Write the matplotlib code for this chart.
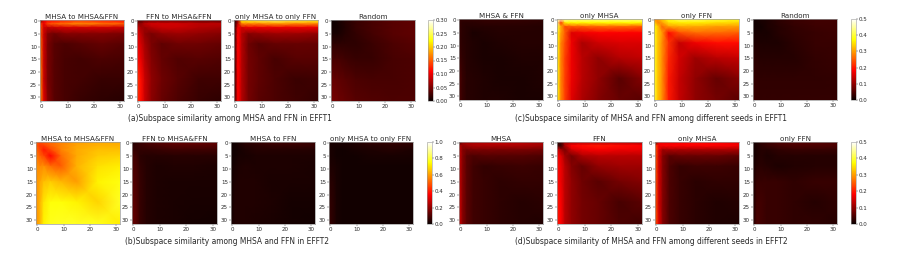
import numpy as np
import matplotlib
matplotlib.use("Agg")
import matplotlib.pyplot as plt

grid = [-0.5, 1, 2.5, 5, 9, 15, 23, 31.5]

a_titles = ["MHSA to MHSA&FFN", "FFN to MHSA&FFN", "only MHSA to only FFN", "Random"]
a1 = [[.02,.10,.11,.11,.12,.13,.12,.11],[.14,.10,.14,.15,.16,.17,.16,.15],[.15,.09,.08,.085,.09,.09,.09,.085],
      [.15,.085,.055,.045,.055,.055,.055,.05],[.16,.085,.05,.035,.03,.035,.04,.035],[.165,.085,.05,.035,.028,.025,.03,.028],
      [.17,.085,.05,.035,.028,.025,.02,.02],[.17,.095,.055,.035,.028,.02,.016,.014]]
a2 = [[.03,.03,.04,.04,.04,.04,.035,.03],[.06,.06,.08,.09,.09,.09,.08,.08],[.09,.07,.065,.075,.085,.085,.075,.07],
      [.10,.08,.06,.05,.06,.065,.06,.055],[.105,.09,.07,.05,.038,.045,.045,.04],[.115,.10,.075,.055,.04,.032,.035,.032],
      [.135,.115,.085,.06,.045,.035,.024,.024],[.13,.115,.085,.058,.042,.03,.02,.016]]
a3 = [[.01,.06,.22,.23,.24,.25,.24,.23],[.01,.08,.17,.17,.17,.18,.17,.17],[.01,.105,.09,.10,.10,.10,.10,.10],
      [.01,.11,.075,.055,.06,.065,.065,.06],[.01,.11,.075,.045,.035,.04,.042,.04],[.01,.11,.075,.048,.038,.028,.034,.034],
      [.012,.11,.075,.048,.038,.03,.022,.024],[.012,.11,.075,.048,.036,.03,.024,.018]]
a4 = [[.002,.003,.006,.012,.02,.028,.035,.038],[.003,.003,.006,.012,.02,.028,.035,.038],[.004,.004,.005,.011,.02,.028,.035,.038],
      [.007,.007,.008,.012,.018,.026,.034,.038],[.016,.016,.016,.016,.016,.022,.03,.034],[.027,.027,.027,.024,.02,.02,.027,.03],
      [.04,.04,.038,.034,.03,.027,.027,.03],[.048,.048,.044,.04,.035,.032,.03,.03]]

b_titles = ["MHSA to MHSA&FFN", "FFN to MHSA&FFN", "MHSA to FFN", "only MHSA to only FFN"]
b1 = [[.50,.47,.50,.52,.56,.60,.62,.62],[.50,.45,.46,.51,.56,.61,.63,.63],[.52,.47,.40,.47,.56,.62,.65,.65],
      [.55,.51,.47,.37,.52,.62,.67,.68],[.58,.57,.58,.53,.50,.63,.70,.72],[.58,.61,.65,.67,.64,.60,.73,.76],
      [.58,.63,.71,.75,.75,.73,.68,.78],[.58,.63,.73,.77,.78,.78,.77,.72]]
b2 = [[.03,.05,.07,.09,.11,.13,.14,.13],[.05,.06,.07,.08,.09,.11,.11,.11],[.07,.06,.06,.06,.07,.08,.08,.08],
      [.09,.08,.05,.04,.04,.045,.045,.045],[.10,.09,.06,.04,.03,.035,.035,.03],[.11,.10,.07,.04,.03,.025,.025,.025],
      [.13,.11,.07,.04,.03,.025,.02,.02],[.14,.12,.07,.04,.03,.025,.016,.014]]
b3 = [[.01,.015,.025,.05,.065,.08,.08,.07],[.01,.015,.025,.04,.05,.06,.065,.065],[.01,.015,.018,.03,.04,.04,.04,.04],
      [.01,.015,.02,.022,.03,.03,.03,.03],[.015,.02,.03,.035,.03,.03,.03,.024],[.015,.03,.035,.035,.035,.024,.024,.024],
      [.015,.035,.035,.035,.035,.03,.016,.016],[.02,.035,.035,.035,.03,.024,.016,.012]]
b4 = [[.02,.02,.02,.02,.03,.055,.065,.055],[.02,.02,.02,.02,.03,.04,.05,.05],[.02,.02,.015,.015,.02,.03,.04,.03],
      [.02,.02,.015,.015,.015,.02,.02,.02],[.03,.03,.02,.015,.015,.015,.015,.015],[.04,.04,.02,.015,.015,.015,.015,.015],
      [.055,.05,.02,.015,.015,.015,.015,.015],[.065,.05,.02,.015,.015,.015,.015,.012]]

c_titles = ["MHSA & FFN", "only MHSA", "only FFN", "Random"]
c1 = [[.03,.03,.03,.03,.03,.03,.03,.03],[.03,.025,.025,.025,.028,.028,.028,.025],[.03,.025,.02,.02,.02,.022,.022,.02],
      [.03,.025,.02,.013,.016,.02,.02,.02],[.03,.025,.02,.016,.013,.016,.02,.02],[.036,.028,.02,.016,.013,.013,.016,.016],
      [.05,.032,.022,.02,.016,.013,.013,.016],[.045,.032,.022,.02,.016,.016,.013,.013]]
c2 = [[.46,.47,.46,.44,.44,.44,.44,.44],[.44,.22,.36,.37,.37,.37,.37,.37],[.41,.31,.24,.25,.25,.26,.26,.25],
      [.38,.30,.25,.16,.17,.18,.18,.18],[.38,.28,.24,.17,.12,.145,.155,.155],[.38,.28,.23,.17,.13,.10,.125,.135],
      [.38,.28,.23,.17,.13,.10,.06,.09],[.38,.28,.23,.16,.12,.09,.07,.06]]
c3 = [[.27,.30,.33,.38,.42,.42,.40,.38],[.34,.28,.30,.35,.36,.36,.35,.34],[.37,.33,.26,.30,.31,.31,.30,.30],
      [.38,.33,.30,.19,.24,.26,.26,.25],[.39,.33,.29,.22,.14,.17,.19,.19],[.39,.33,.29,.21,.15,.11,.13,.14],
      [.39,.33,.29,.20,.14,.10,.07,.09],[.40,.33,.29,.20,.14,.10,.08,.06]]
c4 = [[.006,.006,.01,.014,.024,.035,.04,.04],[.006,.006,.01,.014,.024,.035,.04,.04],[.006,.006,.006,.014,.02,.03,.038,.04],
      [.01,.01,.01,.01,.02,.028,.035,.038],[.017,.017,.014,.014,.014,.024,.035,.035],[.024,.024,.02,.02,.02,.02,.03,.035],
      [.03,.03,.028,.028,.028,.028,.028,.03],[.035,.035,.03,.03,.03,.03,.03,.03]]

d_titles = ["MHSA", "FFN", "only MHSA", "only FFN"]
d1 = [[.02,.11,.12,.12,.13,.14,.13,.12],[.13,.10,.11,.12,.12,.12,.12,.11],[.14,.09,.08,.085,.085,.085,.085,.08],
      [.14,.09,.06,.05,.055,.055,.055,.05],[.14,.09,.06,.04,.03,.034,.038,.034],[.14,.09,.06,.04,.034,.027,.03,.03],
      [.15,.09,.06,.04,.034,.027,.02,.024],[.15,.09,.06,.04,.034,.027,.02,.017]]
d2 = [[.01,.05,.12,.12,.13,.13,.13,.12],[.05,.03,.12,.18,.19,.20,.19,.18],[.16,.11,.085,.15,.17,.18,.17,.17],
      [.18,.16,.11,.08,.12,.13,.13,.13],[.19,.17,.13,.09,.07,.10,.11,.11],[.19,.17,.13,.10,.075,.06,.08,.09],
      [.20,.18,.13,.10,.08,.07,.045,.06],[.20,.18,.13,.10,.08,.07,.05,.04]]
d3 = [[.02,.17,.17,.17,.18,.19,.18,.17],[.24,.17,.18,.18,.18,.18,.18,.17],[.25,.16,.11,.12,.12,.12,.12,.12],
      [.25,.15,.09,.06,.07,.07,.07,.06],[.25,.15,.09,.05,.032,.038,.038,.034],[.25,.15,.09,.05,.034,.024,.028,.028],
      [.25,.15,.09,.05,.034,.024,.017,.02],[.25,.16,.09,.05,.034,.024,.017,.014]]
d4 = [[.008,.014,.028,.035,.05,.056,.056,.05],[.008,.014,.024,.035,.042,.05,.05,.05],[.008,.014,.02,.02,.028,.035,.035,.035],
      [.008,.014,.02,.014,.02,.02,.02,.02],[.01,.02,.024,.02,.014,.018,.02,.02],[.014,.035,.035,.035,.035,.028,.035,.035],
      [.014,.042,.042,.035,.035,.028,.02,.028],[.018,.05,.042,.035,.035,.028,.028,.02]]

a_caption = "(a)Subspace similarity among MHSA and FFN in EFFT1"
b_caption = "(b)Subspace similarity among MHSA and FFN in EFFT2"
c_caption = "(c)Subspace similarity of MHSA and FFN among different seeds in EFFT1"
d_caption = "(d)Subspace similarity of MHSA and FFN among different seeds in EFFT2"

W, H = 897, 269
fig = plt.figure(figsize=(W / 100, H / 100), dpi=100)
plt.rcParams["font.family"] = "DejaVu Sans"
EDGE = "#9a9a9a"
TXT = "#2a2a2a"


def px_axes(x0, x1, y0, y1):
    return fig.add_axes([x0 / W, 1 - y1 / H, (x1 - x0) / W, (y1 - y0) / H])


def group(panels, titles, xs, y0, y1, cbar_x, vmax, cticks, fmt, caption, cap_x, cap_y):
    mesh = None
    for data, title, (x0, x1) in zip(panels, titles, xs):
        ax = px_axes(x0, x1, y0, y1)
        mesh = ax.pcolormesh(grid, grid, np.array(data), cmap="hot", vmin=0, vmax=vmax,
                             shading="gouraud", rasterized=True)
        ax.set_xlim(-0.5, 31.5)
        ax.set_ylim(31.5, -0.5)
        ax.set_xticks([0, 10, 20, 30])
        ax.set_yticks([0, 5, 10, 15, 20, 25, 30])
        ax.tick_params(labelsize=4.0, length=1.2, width=0.3, pad=1, colors=TXT)
        ax.set_title(title, fontsize=5.1, pad=1.0, color=TXT)
        for s in ax.spines.values():
            s.set_linewidth(0.5)
            s.set_color(EDGE)
    cax = px_axes(cbar_x, cbar_x + 5, y0, y1)
    cb = fig.colorbar(mesh, cax=cax)
    cb.set_ticks(cticks)
    cb.set_ticklabels([fmt % t for t in cticks])
    cb.ax.tick_params(labelsize=4.0, length=1.2, width=0.3, pad=0.8, colors=TXT)
    cb.outline.set_linewidth(0.4)
    cb.outline.set_edgecolor(EDGE)
    fig.text(cap_x / W, 1 - cap_y / H, caption, fontsize=5.45, ha="center", va="center", color=TXT)


group([a1, a2, a3, a4], a_titles, [(40, 124), (137, 221), (234, 318), (331, 415)], 20, 101, 428,
      0.30, [0, .05, .10, .15, .20, .25, .30], "%.2f", a_caption, 230, 118)
group([c1, c2, c3, c4], c_titles, [(459, 543), (557, 642), (654, 739), (753, 837)], 19, 100, 851,
      0.5, [0, .1, .2, .3, .4, .5], "%.1f", c_caption, 651, 118)
group([b1, b2, b3, b4], b_titles, [(36, 120), (132, 217), (231, 315), (329, 413)], 142, 224, 427,
      1.0, [0, .2, .4, .6, .8, 1.0], "%.1f", b_caption, 227, 241)
group([d1, d2, d3, d4], d_titles, [(459, 543), (557, 642), (655, 739), (753, 837)], 142, 224, 851,
      0.5, [0, .1, .2, .3, .4, .5], "%.1f", d_caption, 651, 241)

fig.savefig("out.png", dpi=100)
